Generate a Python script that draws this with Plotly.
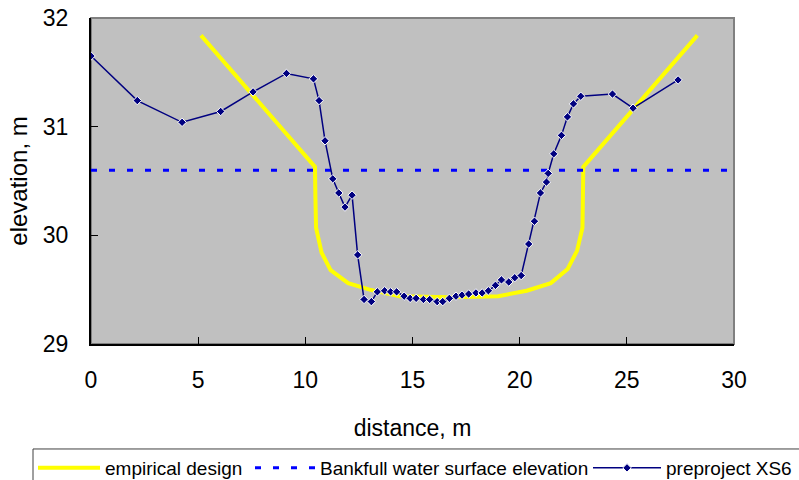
import plotly.graph_objects as go

# Cross-section survey, XS6 (distance across channel vs. elevation)
pre_x = [0, 2.16, 4.25, 6.05, 7.56, 9.12, 10.38, 10.64, 10.92, 11.28,
         11.56, 11.85, 12.18, 12.44, 12.74, 13.08, 13.36, 13.70, 13.98, 14.26,
         14.61, 14.89, 15.17, 15.51, 15.80, 16.15, 16.41, 16.72, 17.03, 17.31,
         17.62, 17.96, 18.25, 18.54, 18.87, 19.15, 19.49, 19.77, 20.07, 20.42,
         20.69, 20.97, 21.25, 21.33, 21.59, 21.95, 22.23, 22.51, 22.85, 24.33,
         25.29, 27.39]
pre_y = [31.65, 31.24, 31.04, 31.14, 31.32, 31.49, 31.44, 31.24, 30.87, 30.52,
         30.39, 30.26, 30.37, 29.82, 29.41, 29.39, 29.48, 29.49, 29.48, 29.48,
         29.44, 29.42, 29.42, 29.41, 29.41, 29.39, 29.39, 29.42, 29.44, 29.45,
         29.46, 29.47, 29.47, 29.49, 29.54, 29.59, 29.57, 29.61, 29.63, 29.92,
         30.13, 30.39, 30.49, 30.57, 30.75, 30.92, 31.09, 31.21, 31.28, 31.30,
         31.17, 31.43]

# Empirical channel design section
design_x = [5.13, 10.45, 10.47, 10.50, 10.76, 11.18, 12.0, 13.0, 14.4, 16.7,
            19.0, 20.33, 21.45, 22.24, 22.68, 22.93, 22.95, 22.97, 28.29]
design_y = [31.84, 30.63, 30.35, 30.07, 29.84, 29.68, 29.56, 29.50, 29.44, 29.43,
            29.44, 29.49, 29.56, 29.69, 29.86, 30.07, 30.35, 30.63, 31.84]

# Bankfull water surface elevation
bankfull_x = [0, 30]
bankfull_y = [30.6, 30.6]

FONT = "Arial, 'Liberation Sans', sans-serif"

fig = go.Figure()
fig.add_trace(go.Scatter(
    x=design_x, y=design_y, mode="lines", name="empirical design",
    line=dict(color="#FFFF00", width=4), legend="legend",
))
fig.add_trace(go.Scatter(
    x=bankfull_x, y=bankfull_y, mode="lines",
    name="Bankfull water surface elevation",
    line=dict(color="#0000FF", width=3, dash="6px,12px"), legend="legend2",
))
fig.add_trace(go.Scatter(
    x=pre_x, y=pre_y, mode="lines+markers", name="preproject XS6",
    line=dict(color="#000080", width=1.5),
    marker=dict(symbol="diamond", size=6.5, color="#000080",
                line=dict(color="white", width=1)),
    legend="legend3",
))

# gray frame on top/right of the plotting area
fig.add_shape(type="rect", xref="paper", yref="paper", x0=0, x1=1, y0=0, y1=1,
              line=dict(color="#808080", width=2), layer="below")
# outline enclosing the legend row under the chart
fig.add_shape(type="rect", xref="paper", yref="paper",
              x0=-0.0902, x1=1.13, y0=-0.322, y1=-0.5,
              line=dict(color="#404040", width=1), fillcolor="white", layer="below")

legend_common = dict(
    orientation="h", xref="container", yref="container",
    y=0.0646, xanchor="left", yanchor="top",
    bgcolor="rgba(0,0,0,0)", borderwidth=0,
    font=dict(family=FONT, size=19, color="black"),
)

fig.update_layout(
    width=799, height=480,
    margin=dict(l=91, r=65, t=18, b=136, autoexpand=False),
    paper_bgcolor="white",
    plot_bgcolor="#C0C0C0",
    font=dict(family=FONT, color="black", size=23),
    showlegend=True,
    legend=dict(legend_common, x=33 / 799, itemwidth=62),
    legend2=dict(legend_common, x=250 / 799, itemwidth=60),
    legend3=dict(legend_common, x=588 / 799, itemwidth=68),
)

fig.update_xaxes(
    range=[0, 30], dtick=5, tick0=0,
    showgrid=False, zeroline=False,
    showline=True, linecolor="black", linewidth=2,
    ticks="inside", ticklen=7, tickcolor="black",
    tickfont=dict(size=23),
    ticklabelstandoff=14,
    title=dict(text="distance, m", font=dict(size=23), standoff=28),
)
fig.update_yaxes(
    range=[29, 32], dtick=1, tick0=29,
    showgrid=False, zeroline=False,
    showline=True, linecolor="black", linewidth=2,
    ticks="inside", ticklen=7, tickcolor="black",
    tickfont=dict(size=23),
    ticklabelstandoff=16,
    title=dict(text="elevation, m", font=dict(size=24), standoff=8),
)

fig.write_html("out.html")
